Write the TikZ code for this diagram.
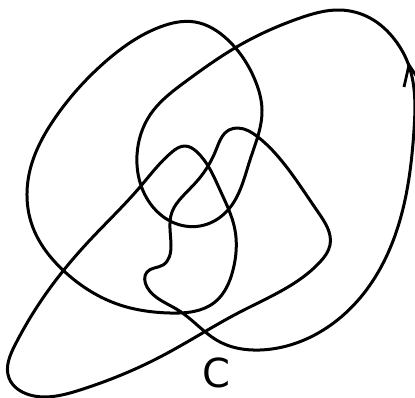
\documentclass[tikz,border=0pt]{standalone}
\usepackage{fontspec}
\setmainfont{DejaVu Sans}
\usetikzlibrary{hobby}
\tikzset{
  curva/.style={line width=3pt, line join=round, use Hobby shortcut, closed=true},
  seta/.style={line width=2.8pt, line join=miter},
  rotulo/.style={font=\fontsize{40}{44}\selectfont, inner sep=0pt, anchor=base}
}
\begin{document}
\begin{tikzpicture}[x=1pt, y=-1pt]
\useasboundingbox (0,0) rectangle (415,397);
% curva fechada C (no sentido da seta)
\draw[curva] (409,66) .. (395,40) .. (370,18) .. (340,10) .. (300,18) .. (240,45)
  .. (185,82) .. (150,115) .. (137,155) .. (145,195) .. (172,222) .. (200,226)
  .. (228,210) .. (250,160) .. (262,110) .. (255,80) .. (228,40) .. (195,22)
  .. (160,27) .. (105,62) .. (55,118) .. (30,170) .. (32,225) .. (65,272)
  .. (120,305) .. (170,313) .. (215,302) .. (233,270) .. (235,230) .. (220,190)
  .. (197,152) .. (185,146) .. (172,152) .. (140,187) .. (90,240) .. (45,295)
  .. (15,345) .. (9,378) .. (30,395) .. (80,390) .. (160,357) .. (240,312)
  .. (320,262) .. (330,245) .. (318,212) .. (285,165) .. (258,137) .. (238,128)
  .. (229,130) .. (216,150) .. (198,180) .. (182,197) .. (172,212) .. (171,245)
  .. (163,265) .. (147,272) .. (147,287) .. (178,310) .. (220,342) .. (260,350)
  .. (320,332) .. (370,285) .. (400,220) .. (414,130);
% ponta da seta
\coordinate (ponta) at (409,65);
\draw[seta] ([shift={(-5,22)}]ponta) -- (ponta) -- ([shift={(12,18)}]ponta);
% rotulo
\node[rotulo] (c) at (216,387) {C};
\end{tikzpicture}
\end{document}
